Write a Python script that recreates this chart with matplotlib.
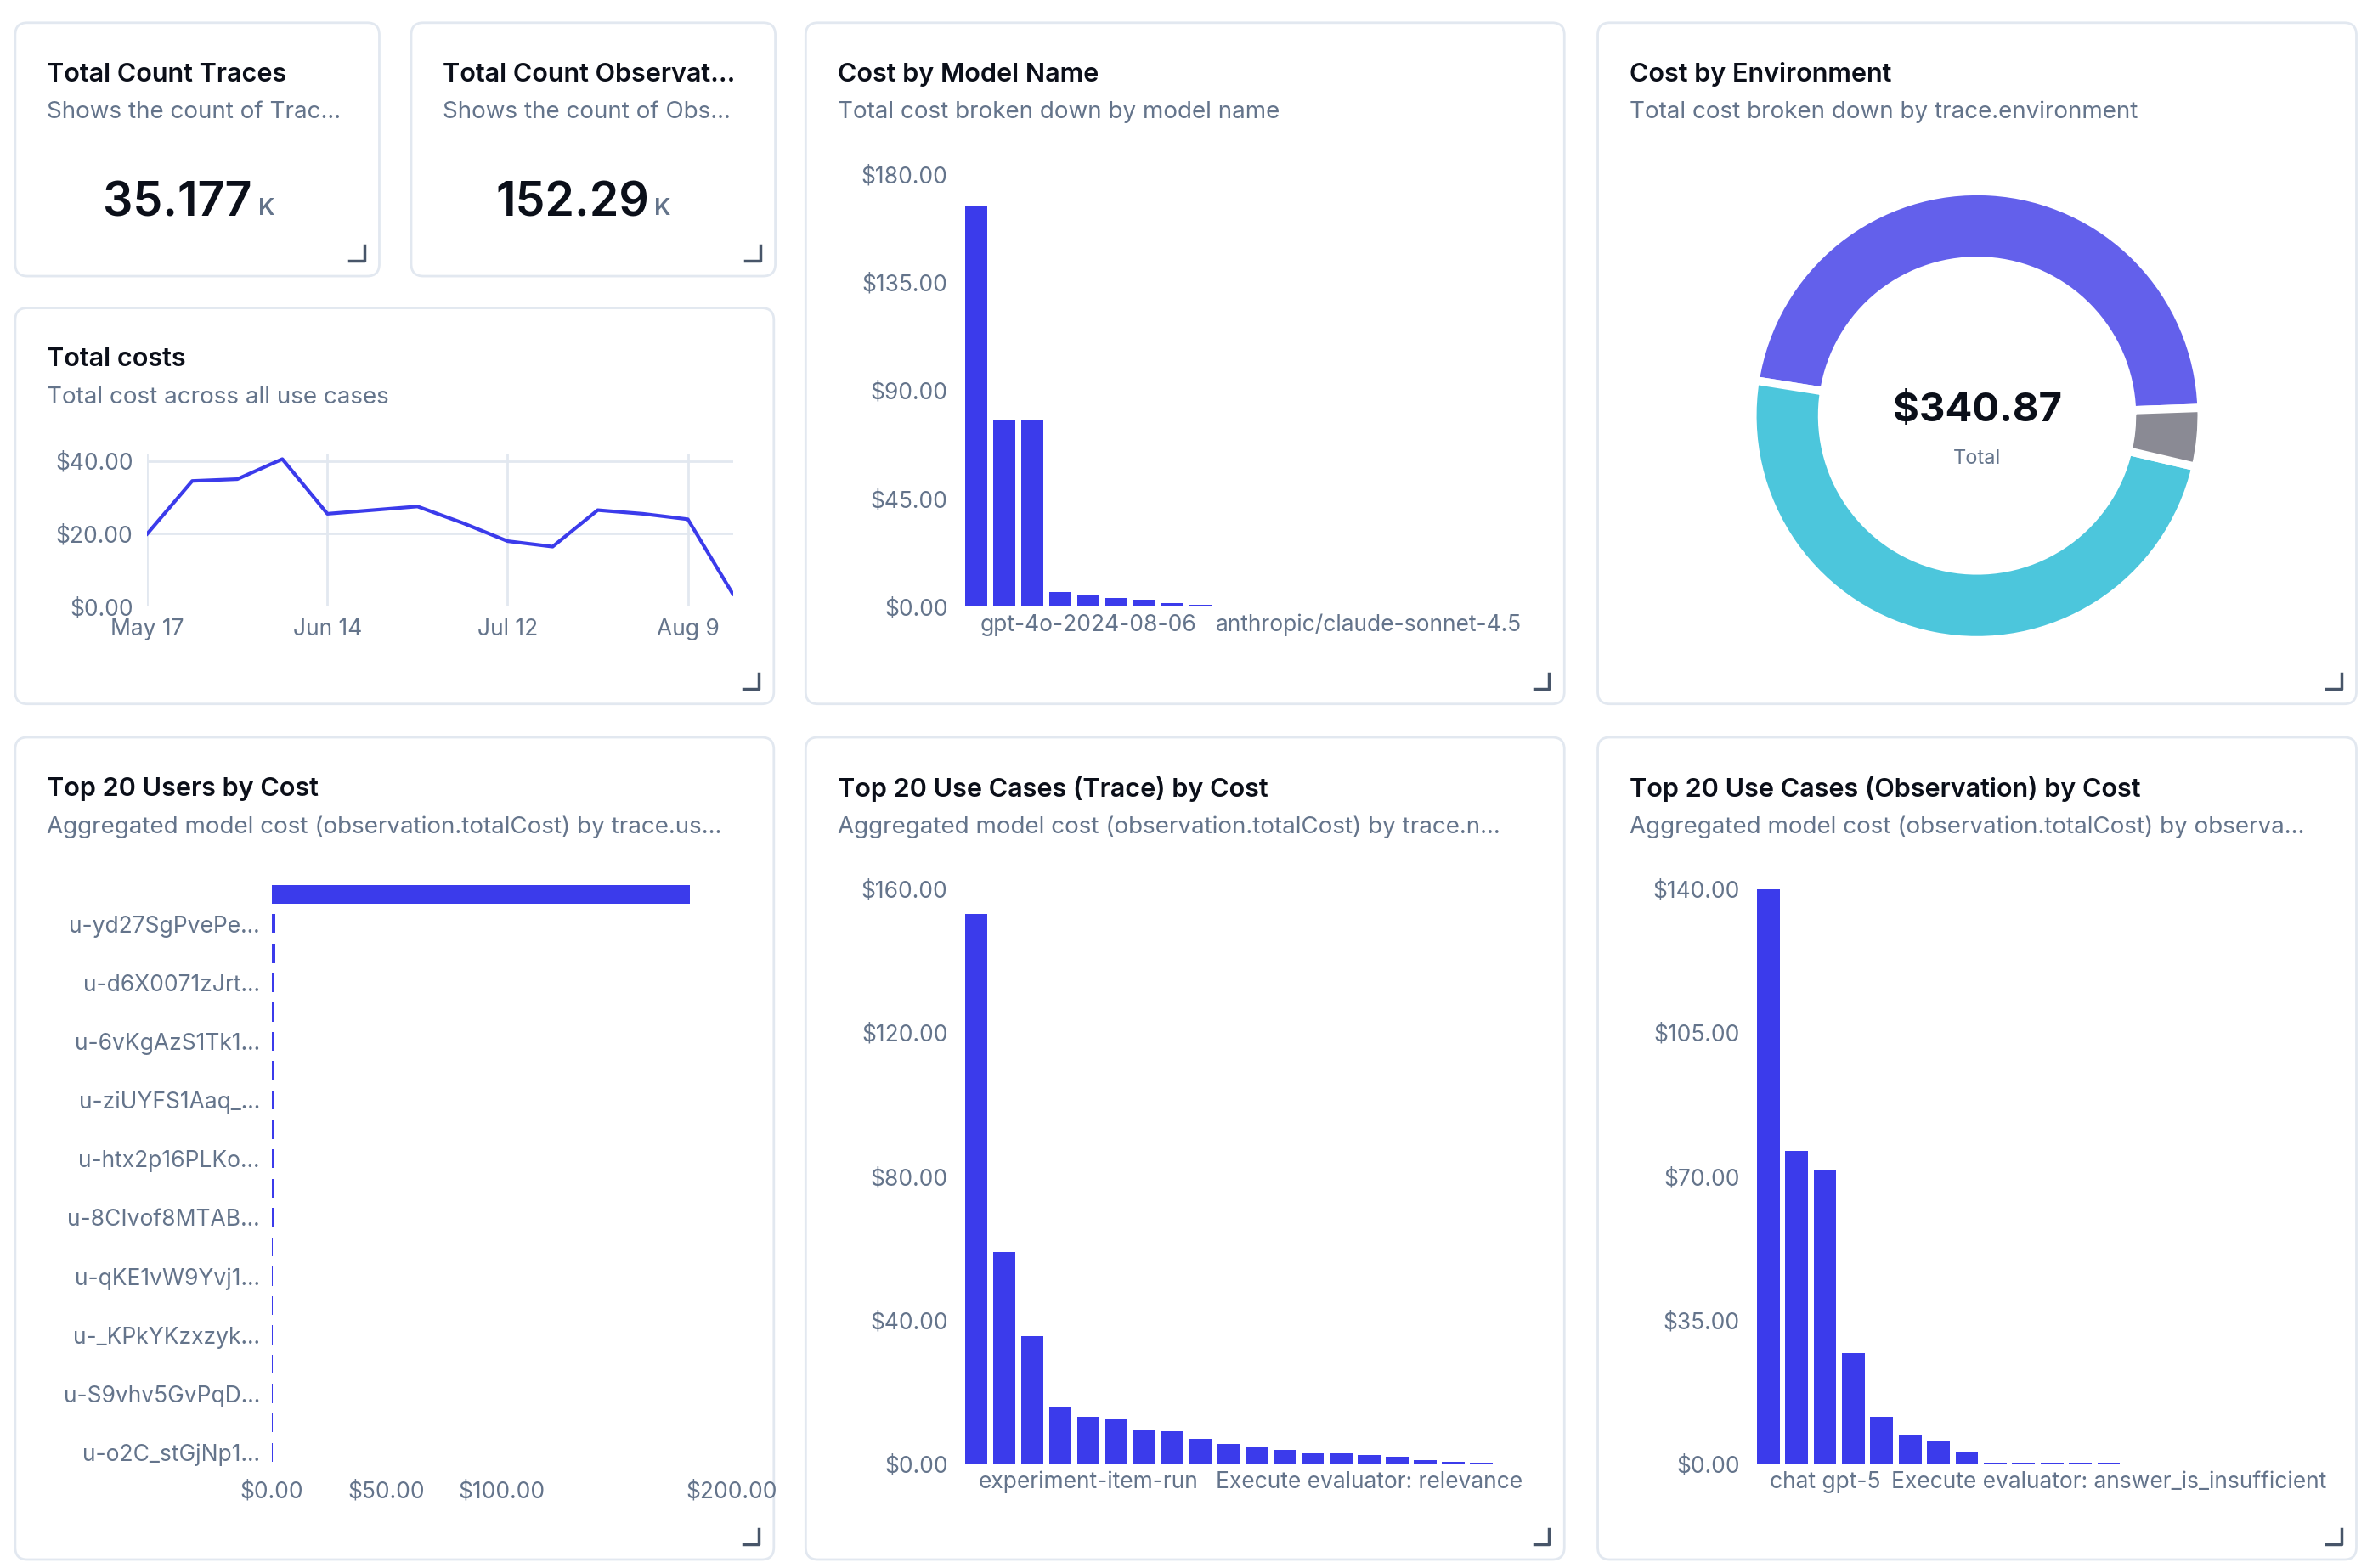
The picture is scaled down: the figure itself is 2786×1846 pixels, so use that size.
import numpy as np
import pandas as pd
import matplotlib
matplotlib.use('Agg')
from matplotlib import pyplot as plt
from matplotlib.patches import FancyBboxPatch
from matplotlib.ticker import FuncFormatter

plt.rcParams['font.family'] = ['Inter', 'DejaVu Sans']

# datos
total_traces = '35.177'
total_obs = '152.29'

fechas = pd.date_range('2025-05-17', periods=14, freq='7D')
costos_total = [20, 34.5, 35, 40.5, 25.5, 26.5, 27.5, 23, 18, 16.5, 26.5, 25.5, 24, 3.5]

costo_modelo = [167, 77.5, 77.5, 6, 5, 3.5, 3, 1.5, 1, 0.6, 0.3, 0.2, 0.1, 0, 0, 0, 0, 0, 0, 0]
etiquetas_modelo = {4: 'gpt-4o-2024-08-06', 14: 'anthropic/claude-sonnet-4.5'}

entornos = ['default', 'production', 'other']
costo_entorno = [160.0, 166.5, 14.37]
total_entorno = '$340.87'

usuarios = ['', 'u-yd27SgPvePe...', '', 'u-d6X0071zJrt...', '', 'u-6vKgAzS1Tk1...', '',
            'u-ziUYFS1Aaq_...', '', 'u-htx2p16PLKo...', '', 'u-8CIvof8MTAB...', '',
            'u-qKE1vW9Yvj1...', '', 'u-_KPkYKzxzyk...', '', 'u-S9vhv5GvPqD...', '',
            'u-o2C_stGjNp1...']
costo_usuario = [182, 1.6, 1.5, 1.4, 1.2, 1.1, 1.0, 0.9, 0.85, 0.8, 0.75, 0.7, 0.65,
                 0.6, 0.6, 0.55, 0.55, 0.5, 0.5, 0.5]

costo_trace = [153, 59, 35.5, 16, 13, 12.5, 9.5, 9, 7, 5.5, 4.5, 4, 3, 3, 2.5, 2, 1, 0.5, 0.3, 0.2]
etiquetas_trace = {4: 'experiment-item-run', 14: 'Execute evaluator: relevance'}

costo_obs = [140, 76.2, 71.6, 26.9, 11.5, 6.9, 5.5, 2.9, 0.4, 0.4, 0.4, 0.4, 0.4, 0.1, 0.1,
             0, 0, 0, 0, 0]
etiquetas_obs = {2: 'chat gpt-5', 12: 'Execute evaluator: answer_is_insufficient'}

# colores
AZUL = '#3b3beb'
TITULO = '#0b0f19'
GRIS = '#64748b'
BORDE = '#e2e8f0'

W, H = 1560, 1033.6
fig = plt.figure(figsize=(27.86, 18.46), dpi=100)
bg = fig.add_axes([0, 0, 1, 1])
bg.set_xlim(0, W)
bg.set_ylim(H, 0)
bg.axis('off')


def tarjeta(x0, y0, x1, y1, titulo, sub=None):
    bg.add_patch(FancyBboxPatch((x0, y0), x1 - x0, y1 - y0, boxstyle='round,pad=0,rounding_size=8',
                                fc='white', ec=BORDE, lw=2))
    bg.text(x0 + 21, y0 + 34, titulo, fontsize=22, fontweight='semibold', color=TITULO, va='center')
    if sub:
        bg.text(x0 + 21, y0 + 59, sub, fontsize=20, color=GRIS, va='center')
    # esquina de redimensionar
    bg.plot([x1 - 20, x1 - 10, x1 - 10], [y1 - 10, y1 - 10, y1 - 20], color='#475569', lw=2.5)


def ejes(x0, y0, x1, y1):
    ax = fig.add_axes([x0 / W, 1 - y1 / H, (x1 - x0) / W, (y1 - y0) / H])
    for s in ax.spines.values():
        s.set_visible(False)
    ax.tick_params(length=0, labelsize=19, labelcolor=GRIS, pad=12)
    return ax


dolar = FuncFormatter(lambda v, p: f'${v:.2f}')

# tarjetas con números
tarjeta(10, 15, 250, 182, 'Total Count Traces', 'Shows the count of Trac...')
bg.text(166, 134, total_traces, fontsize=40, fontweight='semibold', color=TITULO, ha='right', va='center')
bg.text(170, 138, 'K', fontsize=20, fontweight='semibold', color=GRIS, ha='left', va='center')
tarjeta(271, 15, 511, 182, 'Total Count Observat...', 'Shows the count of Obs...')
bg.text(428, 134, total_obs, fontsize=40, fontweight='semibold', color=TITULO, ha='right', va='center')
bg.text(431, 138, 'K', fontsize=20, fontweight='semibold', color=GRIS, ha='left', va='center')

# costos totales
tarjeta(10, 203, 510, 464, 'Total costs', 'Total cost across all use cases')
ax = ejes(97, 299, 483, 400)
ax.plot(fechas, costos_total, color=AZUL, lw=3)
ax.set_ylim(0, 42)
ax.set_xlim(fechas[0], fechas[-1])
ax.set_yticks([0, 20, 40])
ax.yaxis.set_major_formatter(dolar)
ax.set_xticks(fechas[::4])
ax.set_xticklabels([d.strftime('%b %-d') for d in fechas[::4]])
ax.tick_params(axis='x', pad=10)
ax.grid(True, color=BORDE, lw=2)
ax.set_axisbelow(True)

# costo por modelo
tarjeta(531, 15, 1031, 464, 'Cost by Model Name', 'Total cost broken down by model name')
ax = ejes(634, 115, 1004, 400)
x = np.arange(len(costo_modelo))
ax.bar(x, costo_modelo, width=0.8, color=AZUL)
ax.set_xlim(-0.5, len(x) - 0.5)
ax.set_ylim(0, 180)
ax.set_yticks([0, 45, 90, 135, 180])
ax.yaxis.set_major_formatter(dolar)
ax.set_xticks(list(etiquetas_modelo))
ax.set_xticklabels(list(etiquetas_modelo.values()))
ax.tick_params(axis='x', pad=6)

# costo por entorno
tarjeta(1053, 15, 1553, 464, 'Cost by Environment', 'Total cost broken down by trace.environment')
r = 148 / W
ax = fig.add_axes([1303 / W - r, 1 - 274 / H - 148 / H, 2 * r, 2 * 148 / H])
ax.pie(costo_entorno, colors=['#6360eb', '#4cc6dc', '#8a8a94'], startangle=2, counterclock=True,
       radius=1, wedgeprops=dict(width=0.31, edgecolor='white', linewidth=7))
ax.set_xlim(-1, 1)
ax.set_ylim(-1, 1)
ax.set_aspect('equal')
ax.text(0, 0.02, total_entorno, fontsize=34, fontweight='bold', color=TITULO, ha='center', va='center')
ax.text(0, -0.19, 'Total', fontsize=17, color=GRIS, ha='center', va='center')

# usuarios
tarjeta(10, 486, 510, 1028, 'Top 20 Users by Cost', 'Aggregated model cost (observation.totalCost) by trace.us...')
ax = ejes(179, 580, 482, 967)
y = np.arange(len(costo_usuario))
ax.barh(y, costo_usuario, height=0.65, color=AZUL)
ax.set_ylim(len(y) - 0.5, -0.5)
ax.set_xlim(0, 200)
ax.set_yticks(y)
ax.set_yticklabels(usuarios)
ax.set_xticks([0, 50, 100, 200])
ax.xaxis.set_major_formatter(dolar)
ax.tick_params(axis='y', pad=10)

# use cases (trace)
tarjeta(531, 486, 1031, 1028, 'Top 20 Use Cases (Trace) by Cost',
        'Aggregated model cost (observation.totalCost) by trace.n...')
ax = ejes(634, 586, 1004, 965)
x = np.arange(len(costo_trace))
ax.bar(x, costo_trace, width=0.8, color=AZUL)
ax.set_xlim(-0.5, len(x) - 0.5)
ax.set_ylim(0, 160)
ax.set_yticks([0, 40, 80, 120, 160])
ax.yaxis.set_major_formatter(dolar)
ax.set_xticks(list(etiquetas_trace))
ax.set_xticklabels(list(etiquetas_trace.values()))
ax.tick_params(axis='x', pad=6)

# use cases (observation)
tarjeta(1053, 486, 1553, 1028, 'Top 20 Use Cases (Observation) by Cost',
        'Aggregated model cost (observation.totalCost) by observa...')
ax = ejes(1156, 586, 1530, 965)
x = np.arange(len(costo_obs))
ax.bar(x, costo_obs, width=0.8, color=AZUL)
ax.set_xlim(-0.5, len(x) - 0.5)
ax.set_ylim(0, 140)
ax.set_yticks([0, 35, 70, 105, 140])
ax.yaxis.set_major_formatter(dolar)
ax.set_xticks(list(etiquetas_obs))
ax.set_xticklabels(list(etiquetas_obs.values()))
ax.tick_params(axis='x', pad=6)

fig.savefig('out.png', dpi=100, facecolor='white')
